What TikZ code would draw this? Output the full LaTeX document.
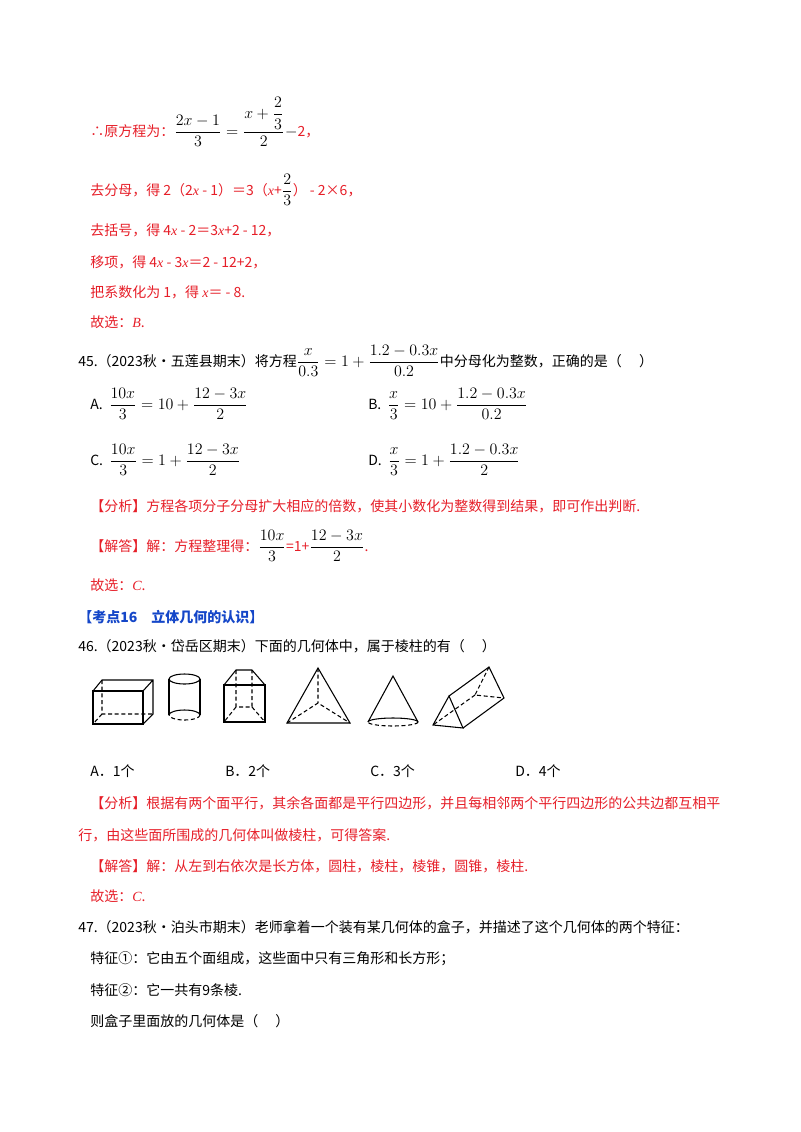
\documentclass[tikz,border=0pt]{standalone}
\usepackage{amsmath}
\usepackage{fontspec}
\setmainfont{Noto Sans CJK SC}
\newfontfamily\lser{Liberation Serif}
\renewcommand{\textit}[1]{{\lser\itshape #1}}
\definecolor{rd}{RGB}{230,30,40}
\definecolor{bl}{RGB}{20,70,200}
\newcommand{\mfr}[1]{{\fontsize{12pt}{14pt}\selectfont$#1$}}
\begin{document}
\begin{tikzpicture}[x=0.75pt,y=-0.75pt,
  t/.style={anchor=base west,inner sep=0,font=\fontsize{10.5pt}{12pt}\selectfont},
  r/.style={t,text=rd},
  sh/.style={line width=0.8pt},
  hd/.style={line width=0.8pt,dash pattern=on 3pt off 2pt}]
\useasboundingbox (0,0) rectangle (800,1132);
\node[r] (l1) at (90,136) {∴原方程为：\textcolor{black}{\mfr{\dfrac{2x-1}{3}=\dfrac{x+\dfrac{2}{3}}{2}-}}2，};
\node[r] (l2) at (90,195) {去分母，得 2（2\textit{x} - 1）＝3（\textit{x}+\textcolor{black}{\mfr{\dfrac{2}{3}}}） - 2×6，};
\node[r] (l3) at (90,235) {去括号，得 4\textit{x} - 2＝3\textit{x}+2 - 12，};
\node[r] (l4) at (90,267) {移项，得 4\textit{x} - 3\textit{x}＝2 - 12+2，};
\node[r] (l5) at (90,297) {把系数化为 1，得 \textit{x}＝ - 8.};
\node[r] (l6) at (90,327) {故选：\textit{B}.};
\node[t] (q45) at (78,366) {45.（2023秋•五莲县期末）将方程\mfr{\dfrac{x}{0.3}=1+\dfrac{1.2-0.3x}{0.2}}中分母化为整数，正确的是（\quad\ ）};
\node[t] (a) at (90,409) {A.\ \ \mfr{\dfrac{10x}{3}=10+\dfrac{12-3x}{2}}};
\node[t] (b) at (368,409) {B.\ \ \mfr{\dfrac{x}{3}=10+\dfrac{1.2-0.3x}{0.2}}};
\node[t] (c) at (90,465) {C.\ \ \mfr{\dfrac{10x}{3}=1+\dfrac{12-3x}{2}}};
\node[t] (d) at (368,465) {D.\ \ \mfr{\dfrac{x}{3}=1+\dfrac{1.2-0.3x}{2}}};
\node[r] (f1) at (90,511) {【分析】方程各项分子分母扩大相应的倍数，使其小数化为整数得到结果，即可作出判断.};
\node[r] (j1) at (90,551) {【解答】解：方程整理得：\textcolor{black}{\mfr{\dfrac{10x}{3}}}=1+\textcolor{black}{\mfr{\dfrac{12-3x}{2}}}.};
\node[r] (g1) at (90,590) {故选：\textit{C}.};
\node[t,text=bl,font=\bfseries\fontsize{10.5pt}{12pt}\selectfont] (kd) at (78,622) {【考点16\quad 立体几何的认识】};
\node[t] (q46) at (78,651) {46.（2023秋•岱岳区期末）下面的几何体中，属于棱柱的有（\quad\ ）};
% shapes
\draw[sh] (93,691) rectangle (143,724);
\draw[sh] (93,691)--(102,680)--(153,680)--(153,714)--(143,724) (143,691)--(153,680);
\draw[hd] (102,680)--(102,714)--(153,714) (102,714)--(93,724);
\draw[sh] (184.5,679) ellipse (15.5 and 5);
\draw[sh] (169,679)--(169,715) (200,679)--(200,715);
\draw[sh] (169,715) arc (180:360:15.5 and 5);
\draw[hd] (200,715) arc (0:180:15.5 and 5);
\draw[sh] (224,685) rectangle (265,722);
\draw[sh] (224,685)--(236,670)--(252,670)--(265,685);
\draw[hd] (236,670)--(236,707)--(252,707)--(252,670) (236,707)--(224,722) (252,707)--(265,722);
\draw[sh] (318,668)--(287,723)--(350,723)--cycle;
\draw[hd] (318,668)--(318,703) (287,723)--(318,703)--(350,723);
\draw[sh] (368,722)--(393,676)--(418,722);
\draw[sh] (368,722) arc (180:360:25 and 4);
\draw[hd] (418,722) arc (0:180:25 and 4);
\draw[sh] (449,696)--(433,725)--(463,728)--cycle;
\draw[sh] (449,696)--(489,667)--(504,698)--(463,728);
\draw[hd] (489,667)--(475,695)--(504,698) (475,695)--(433,725);
\node[t] (o1) at (90,776) {A．1个};
\node[t] (o2) at (225,776) {B．2个};
\node[t] (o3) at (370,776) {C．3个};
\node[t] (o4) at (515,776) {D．4个};
\node[r] (f2) at (90,808) {【分析】根据有两个面平行，其余各面都是平行四边形，并且每相邻两个平行四边形的公共边都互相平};
\node[r] (f3) at (78,840) {行，由这些面所围成的几何体叫做棱柱，可得答案.};
\node[r] (j2) at (90,871) {【解答】解：从左到右依次是长方体，圆柱，棱柱，棱锥，圆锥，棱柱.};
\node[r] (g2) at (90,901) {故选：\textit{C}.};
\node[t] (q47) at (78,932) {47.（2023秋•泊头市期末）老师拿着一个装有某几何体的盒子，并描述了这个几何体的两个特征：};
\node[t] (t1) at (90,963) {特征①：它由五个面组成，这些面中只有三角形和长方形；};
\node[t] (t2) at (90,995) {特征②：它一共有9条棱.};
\node[t] (t3) at (90,1026) {则盒子里面放的几何体是（\quad\ ）};
\end{tikzpicture}
\end{document}
